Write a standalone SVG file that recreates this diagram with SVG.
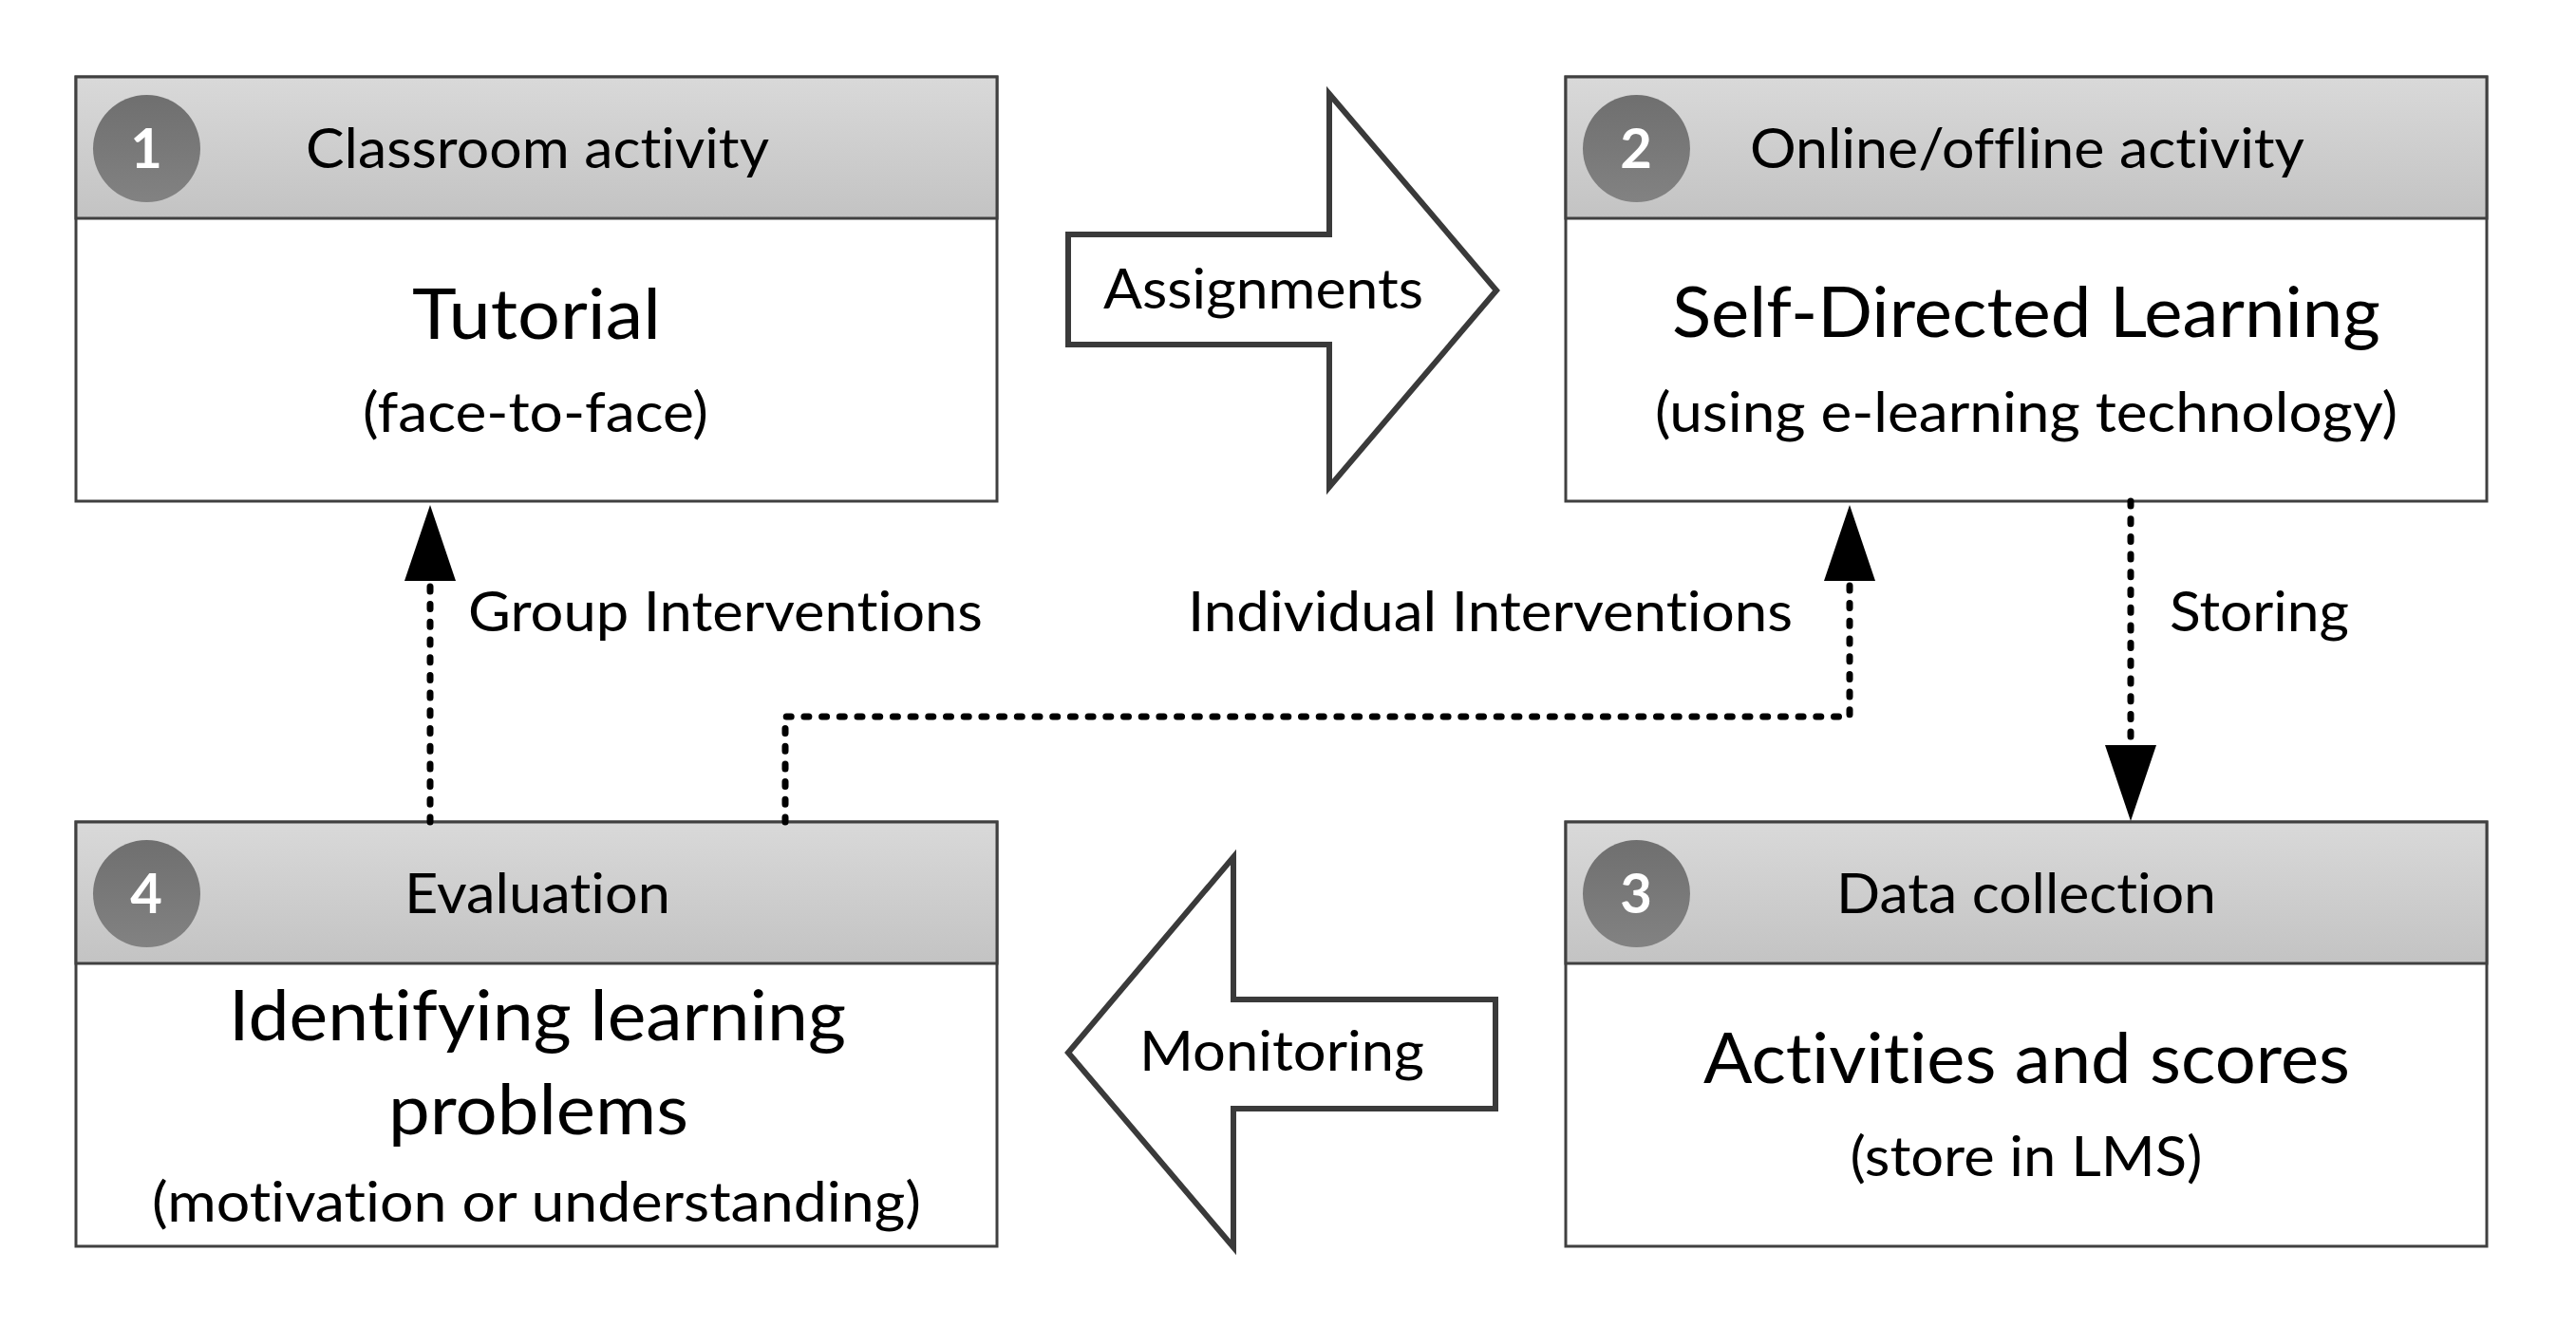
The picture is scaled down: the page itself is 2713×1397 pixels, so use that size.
<svg xmlns="http://www.w3.org/2000/svg" width="2713" height="1397" viewBox="0 0 2713 1397">
<defs>
<linearGradient id="hdr" x1="0" y1="0" x2="0" y2="1"><stop offset="0" stop-color="#d9d9d9"/><stop offset="1" stop-color="#c3c3c3"/></linearGradient>
<linearGradient id="badge" x1="0" y1="0" x2="0" y2="1"><stop offset="0" stop-color="#6f6f6f"/><stop offset="1" stop-color="#828282"/></linearGradient>
<marker id="ah" markerUnits="userSpaceOnUse" markerWidth="80" markerHeight="54" refX="0" refY="27" orient="auto" viewBox="0 0 80 54"><path d="M0,0 L80,27 L0,54 Z" fill="#000"/></marker>
<style>
.body{fill:#fff;stroke:#404040;stroke-width:3}
.hdr{fill:url(#hdr);stroke:#404040;stroke-width:3}
.badge{fill:url(#badge)}
.num{font-family:Lato,'Liberation Sans',sans-serif;font-weight:700;font-size:58px;fill:#fff;text-anchor:middle}
.t{font-family:Lato,'Liberation Sans',sans-serif;fill:#000;text-anchor:middle;font-variant-ligatures:none;font-feature-settings:"liga" 0,"dlig" 0}
.h{font-size:58px}
.big{font-size:74px}
.sub{font-size:58px}
.conn{fill:none;stroke:#000;stroke-width:7;stroke-linecap:round;stroke-dasharray:5 13.7}
.blk{fill:#fff;stroke:#3a3a3a;stroke-width:6}
</style>
</defs>
<rect width="2713" height="1397" fill="#fff"/>
<g id="node1">
<rect class="body" x="80" y="81" width="970" height="447"/>
<rect class="hdr" x="80" y="81" width="970" height="149"/>
<circle class="badge" cx="154.5" cy="156.5" r="56.5"/>
<text class="num" x="154" y="177">1</text>
<text class="t h" x="566" y="177" textLength="488" lengthAdjust="spacingAndGlyphs">Classroom activity</text>
<text class="t big" x="565" y="357" textLength="262" lengthAdjust="spacingAndGlyphs">Tutorial</text>
<text class="t sub" x="564" y="455" textLength="364" lengthAdjust="spacingAndGlyphs">(face-to-face)</text>
</g>
<g id="node2">
<rect class="body" x="1649" y="81" width="970" height="447"/>
<rect class="hdr" x="1649" y="81" width="970" height="149"/>
<circle class="badge" cx="1723.5" cy="156.5" r="56.5"/>
<text class="num" x="1723" y="177">2</text>
<text class="t h" x="2135" y="177" textLength="584" lengthAdjust="spacingAndGlyphs">Online/offline activity</text>
<text class="t big" x="2134" y="355" textLength="746" lengthAdjust="spacingAndGlyphs">Self-Directed Learning</text>
<text class="t sub" x="2134" y="455" textLength="782" lengthAdjust="spacingAndGlyphs">(using e-learning technology)</text>
</g>
<g id="node3">
<rect class="body" x="1649" y="866" width="970" height="447"/>
<rect class="hdr" x="1649" y="866" width="970" height="149"/>
<circle class="badge" cx="1723.5" cy="941.5" r="56.5"/>
<text class="num" x="1723" y="962">3</text>
<text class="t h" x="2134" y="962" textLength="400" lengthAdjust="spacingAndGlyphs">Data collection</text>
<text class="t big" x="2134.5" y="1141" textLength="681" lengthAdjust="spacingAndGlyphs">Activities and scores</text>
<text class="t sub" x="2134" y="1239" textLength="371" lengthAdjust="spacingAndGlyphs">(store in LMS)</text>
</g>
<g id="node4">
<rect class="body" x="80" y="866" width="970" height="447"/>
<rect class="hdr" x="80" y="866" width="970" height="149"/>
<circle class="badge" cx="154.5" cy="941.5" r="56.5"/>
<text class="num" x="154" y="962">4</text>
<text class="t h" x="566" y="962" textLength="280" lengthAdjust="spacingAndGlyphs">Evaluation</text>
<text class="t big" x="566" y="1096" textLength="650" lengthAdjust="spacingAndGlyphs">Identifying learning</text>
<text class="t big" x="567" y="1195" textLength="316" lengthAdjust="spacingAndGlyphs">problems</text>
<text class="t sub" x="565" y="1287" textLength="810" lengthAdjust="spacingAndGlyphs">(motivation or understanding)</text>
</g>
<g id="connectors">
<g id="assignments">
<polygon class="blk" points="1125,247 1400,247 1400,99 1576,306 1400,513 1400,363 1125,363"/>
<text class="t h" x="1330.5" y="325" textLength="337" lengthAdjust="spacingAndGlyphs">Assignments</text>
</g>
<g id="monitoring">
<polygon class="blk" points="1575,1053 1299,1053 1299,903 1125,1109 1299,1314 1299,1168 1575,1168"/>
<text class="t h" x="1350" y="1128" textLength="300" lengthAdjust="spacingAndGlyphs">Monitoring</text>
</g>
<g id="group-interventions">
<path class="conn" d="M453,866 V612" marker-end="url(#ah)"/>
<text class="t h" x="764" y="665" textLength="542" lengthAdjust="spacingAndGlyphs">Group Interventions</text>
</g>
<g id="individual-interventions">
<path class="conn" d="M827,866 V755 H1948 V612" marker-end="url(#ah)"/>
<text class="t h" x="1569.5" y="665" textLength="637" lengthAdjust="spacingAndGlyphs">Individual Interventions</text>
</g>
<g id="storing">
<path class="conn" d="M2244,528 V785" marker-end="url(#ah)"/>
<text class="t h" x="2379.5" y="665" textLength="189" lengthAdjust="spacingAndGlyphs">Storing</text>
</g>
</g>
</svg>
